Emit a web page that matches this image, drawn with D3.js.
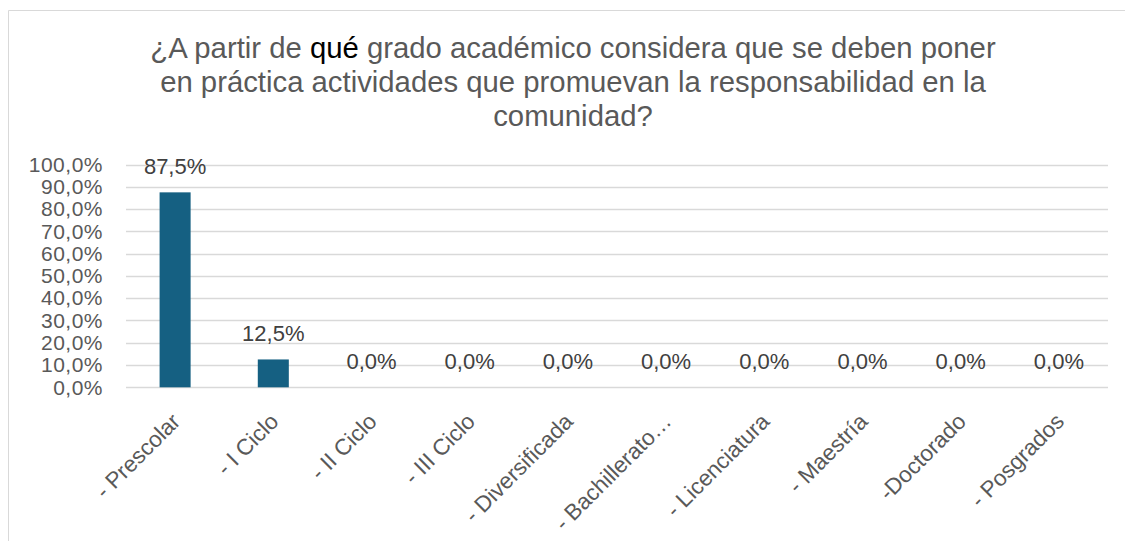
<!DOCTYPE html>
<html>
<head>
<meta charset="utf-8">
<script src="https://cdn.jsdelivr.net/npm/d3@7"></script>
<style>
  body { margin: 0; background: #fff; }
  text { font-family: "Liberation Sans", Arial, sans-serif; }
</style>
</head>
<body>
<div id="chart"></div>
<script>
"use strict";

// chart values
const categories = ["- Prescolar", "- I Ciclo", "- II Ciclo", "- III Ciclo", "- Diversificada",
    "- Bachillerato…", "- Licenciatura", "- Maestría", "-Doctorado", "- Posgrados"];
const values = [87.5, 12.5, 0, 0, 0, 0, 0, 0, 0, 0];
const yTicks = [0, 10, 20, 30, 40, 50, 60, 70, 80, 90, 100];
const titleLines = [
    [["¿A partir de ", false], ["qué", true], [" grado académico considera que se deben poner", false]],
    [["en práctica actividades que promuevan la responsabilidad en la", false]],
    [["comunidad?", false]]
];

const msm = {
    width: 1125,
    height: 541,
    left: 126,
    right: 1108,
    top: 164.5,
    bottom: 387.3
}

const fmt = (v) => v.toFixed(1).replace(".", ",") + "%";

let svg = d3.select("#chart")
    .append("svg")
    .attr("width", msm.width)
    .attr("height", msm.height);

// outer border of the chart area
svg.append("path")
    .attr("d", "M8.5," + msm.height + " L8.5,10.5 L" + msm.width + ",10.5")
    .attr("fill", "none")
    .attr("stroke", "#d9d9d9")
    .attr("stroke-width", 1);

// title
let title = svg.append("text")
    .attr("text-anchor", "middle")
    .style("font-size", "29.3px")
    .attr("fill", "#595959");
titleLines.forEach((line, i) => {
    line.forEach((part, j) => {
        let t = title.append("tspan").text(part[0]);
        if (j == 0) t.attr("x", 573).attr("y", 58 + i * 34);
        if (part[1]) t.attr("fill", "#000000");
    });
});

// scales
let x = d3.scaleBand()
    .domain(categories)
    .range([msm.left, msm.right])
    .paddingInner(0.684)
    .paddingOuter(0.342);

let y = d3.scaleLinear()
    .domain([0, 100])
    .range([msm.bottom, msm.top]);

// gridlines
svg.append("g")
    .selectAll("line")
    .data(yTicks)
    .enter()
    .append("line")
    .attr("x1", msm.left)
    .attr("x2", msm.right)
    .attr("y1", (d) => Math.round(y(d)) + 0.5)
    .attr("y2", (d) => Math.round(y(d)) + 0.5)
    .attr("stroke", "#d9d9d9")
    .attr("stroke-width", 1.5);

// y axis labels
let yAxis = d3.axisLeft(y)
    .tickValues(yTicks)
    .tickFormat(fmt)
    .tickSize(0)
    .tickPadding(23);
let yg = svg.append("g")
    .attr("transform", "translate(" + msm.left + ",0)")
    .call(yAxis);
yg.select(".domain").remove();
yg.selectAll("text")
    .style("font-size", "21px")
    .style("letter-spacing", "0.5px")
    .style("font-family", "'Liberation Sans', Arial, sans-serif")
    .attr("fill", "#595959");

// bars
svg.append("g")
    .selectAll("rect")
    .data(values)
    .enter()
    .append("rect")
    .attr("x", (d, i) => x(categories[i]))
    .attr("y", (d) => y(d))
    .attr("width", x.bandwidth())
    .attr("height", (d) => y(0) - y(d))
    .attr("fill", "#156082");

// data labels
svg.append("g")
    .selectAll("text")
    .data(values)
    .enter()
    .append("text")
    .attr("x", (d, i) => x(categories[i]) + x.bandwidth() / 2)
    .attr("y", (d) => y(d) - 18)
    .attr("text-anchor", "middle")
    .style("font-size", "22px")
    .attr("fill", "#404040")
    .text(fmt);

// x axis labels, rotated
let xAxis = d3.axisBottom(x)
    .tickSize(0)
    .tickPadding(0);
let xg = svg.append("g")
    .attr("transform", "translate(0," + msm.bottom + ")")
    .call(xAxis);
xg.select(".domain").remove();
xg.selectAll("text")
    .attr("text-anchor", "end")
    .attr("dy", "0.35em")
    .attr("transform", "translate(1,30) rotate(-45)")
    .style("font-size", "22.5px")
    .style("font-family", "'Liberation Sans', Arial, sans-serif")
    .attr("fill", "#595959");
</script>
</body>
</html>
